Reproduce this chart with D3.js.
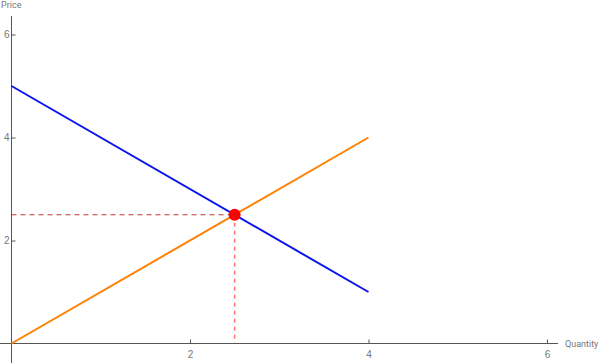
<!DOCTYPE html>
<html>
<head>
<meta charset="utf-8">
<script src="https://cdn.jsdelivr.net/npm/d3@7"></script>
<style>
  body { margin: 0; background: #fff; }
  svg { display: block; font-family: Roboto, sans-serif; }
</style>
</head>
<body>
<div class="chart"></div>
<script>
  const width = 600;
  const height = 363;

  const xTicks = [2, 4, 6];
  const yTicks = [2, 4, 6];
  const demandQ = [0, 4];
  const demandP = [5, 1];
  const supplyQ = [0, 4];
  const supplyP = [0, 4];
  const equilibrium = { q: 2.5, p: 2.5 };

  const xScale = d3.scaleLinear().domain([0, 6]).range([11.5, 547]);
  const yScale = d3.scaleLinear().domain([0, 6]).range([343.5, 34.5]);

  const svg = d3.select('.chart').append('svg')
    .attr('width', width)
    .attr('height', height);

  const line = d3.line()
    .x(d => xScale(d[0]))
    .y(d => yScale(d[1]));

  // dashed guides to the equilibrium
  svg.append('line')
    .attr('x1', xScale(0)).attr('x2', xScale(equilibrium.q))
    .attr('y1', yScale(equilibrium.p)).attr('y2', yScale(equilibrium.p))
    .attr('stroke', '#c03a3a')
    .attr('stroke-width', 1.2)
    .attr('stroke-dasharray', '5,4')
  svg.append('line')
    .attr('x1', xScale(equilibrium.q)).attr('x2', xScale(equilibrium.q))
    .attr('y1', yScale(equilibrium.p)).attr('y2', yScale(0))
    .attr('stroke', '#ff7070')
    .attr('stroke-width', 1.5)
    .attr('stroke-dasharray', '4,4')

  // axes
  const fmt = d3.format('d')
  const xAxis = d3.axisTop(xScale).tickValues(xTicks).tickFormat(fmt).tickSize(4).tickSizeOuter(0)
  const yAxis = d3.axisRight(yScale).tickValues(yTicks).tickFormat(fmt).tickSize(4).tickSizeOuter(0)

  const gx = svg.append('g')
    .attr('transform', `translate(0, ${yScale(0)})`)
    .call(xAxis)
  gx.select('.domain').remove()
  gx.append('line').attr('x1', 0).attr('x2', 558).attr('stroke', '#555')
  gx.selectAll('.tick line').attr('stroke', '#555')
  gx.selectAll('.tick text')
    .attr('y', 14)
    .attr('dy', 0)
    .attr('fill', '#777')
    .style('font-size', '10px')

  const gy = svg.append('g')
    .attr('transform', `translate(${xScale(0)}, 0)`)
    .call(yAxis)
  gy.select('.domain').remove()
  gy.append('line').attr('y1', 16).attr('y2', height).attr('stroke', '#555')
  gy.selectAll('.tick line').attr('stroke', '#555')
  gy.selectAll('.tick text')
    .attr('x', -2)
    .attr('text-anchor', 'end')
    .attr('fill', '#777')
    .style('font-size', '10px')

  svg.append('text')
    .attr('x', 1).attr('y', 8)
    .attr('fill', '#777')
    .style('font-size', '9px')
    .text('Price')
  svg.append('text')
    .attr('x', 565).attr('y', 347)
    .attr('fill', '#777')
    .style('font-size', '9px')
    .text('Quantity')

  // curves
  svg.append('path')
    .datum(d3.zip(supplyQ, supplyP))
    .attr('d', line)
    .attr('fill', 'none')
    .attr('stroke', '#ff8000')
    .attr('stroke-width', 2)
  svg.append('path')
    .datum(d3.zip(demandQ, demandP))
    .attr('d', line)
    .attr('fill', 'none')
    .attr('stroke', '#0a14ee')
    .attr('stroke-width', 2)

  svg.append('circle')
    .attr('cx', xScale(equilibrium.q))
    .attr('cy', yScale(equilibrium.p))
    .attr('r', 6)
    .attr('fill', '#ff0000')
</script>
</body>
</html>
